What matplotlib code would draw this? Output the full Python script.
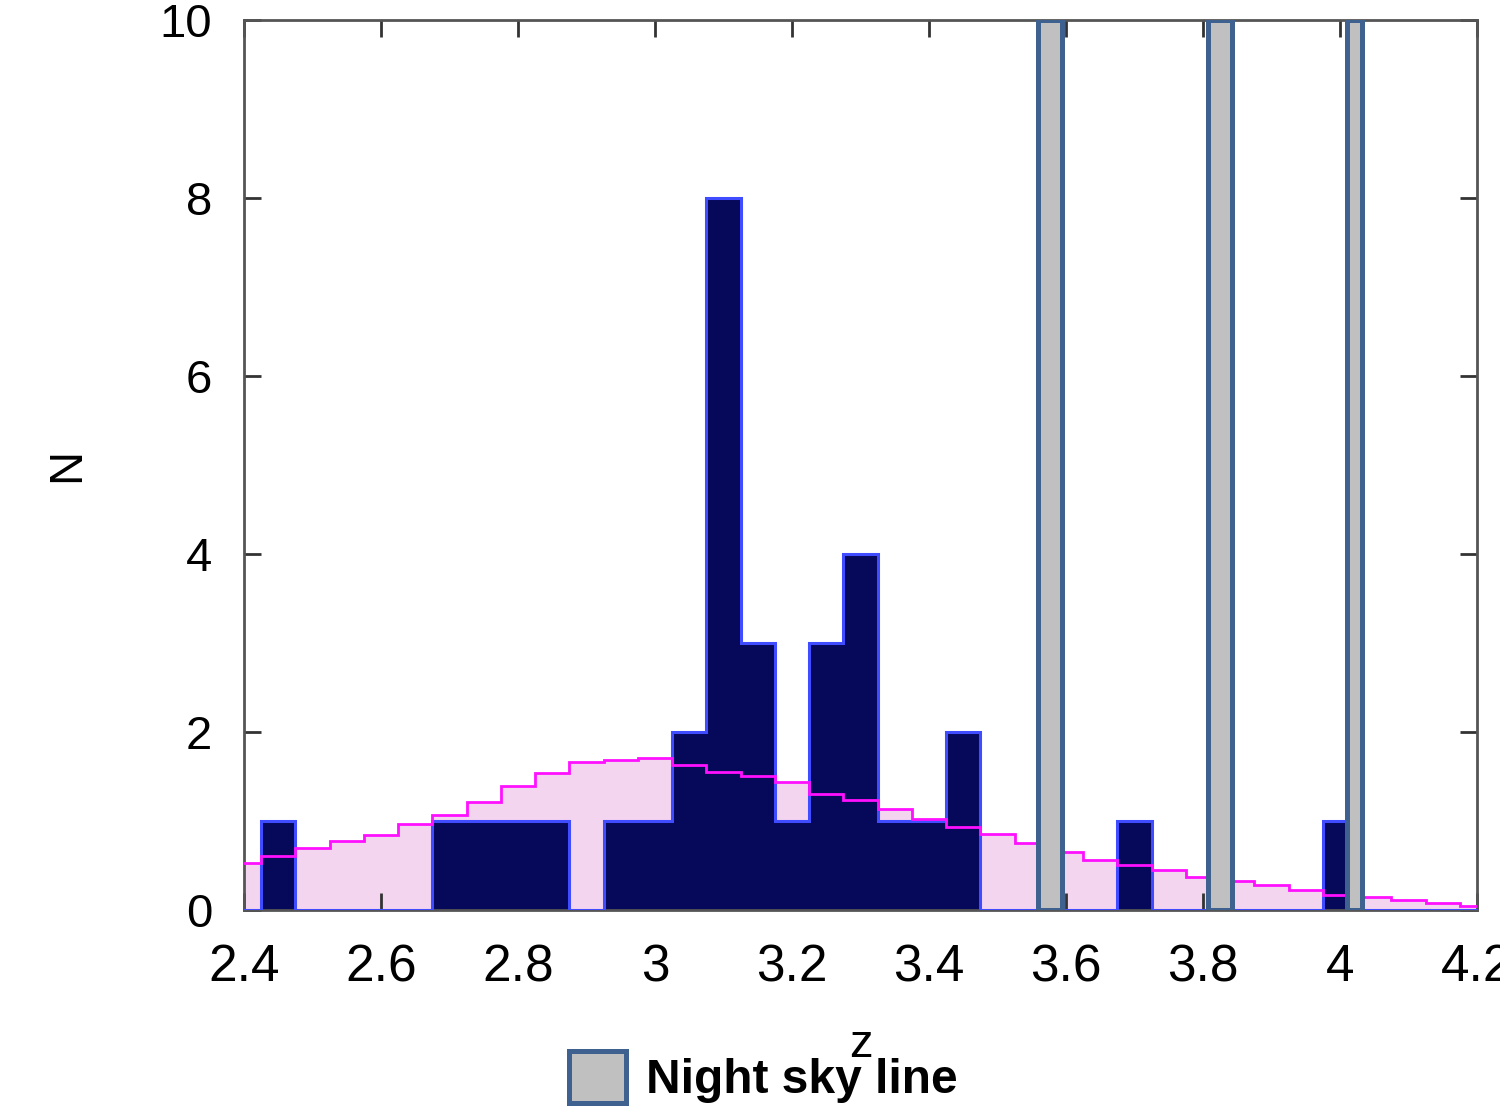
"""
Redshift histogram with model curve and night sky line bands
"""

import numpy as np
import matplotlib.pyplot as plt
from matplotlib.patches import Patch

plt.rcParams['font.family'] = ['Liberation Sans', 'DejaVu Sans']

# binning (width 0.05 in z)
bin_start = 2.375
bin_width = 0.05

# observed counts per bin, starting at 2.375
observed_counts = [0, 1, 0, 0, 0, 0, 1, 1, 1, 1, 0, 1, 1, 2, 8, 3, 1, 3, 4,
                   1, 1, 2, 0, 0, 0, 0, 1, 0, 0, 0, 0, 0, 1, 0, 0, 0, 0]

# expected distribution per bin, same binning
model_counts = [0.53, 0.61, 0.70, 0.77, 0.84, 0.97, 1.07, 1.21, 1.39, 1.54,
                1.66, 1.69, 1.71, 1.63, 1.55, 1.51, 1.44, 1.30, 1.24, 1.13,
                1.02, 0.93, 0.85, 0.75, 0.65, 0.56, 0.51, 0.45, 0.37, 0.33,
                0.28, 0.22, 0.17, 0.15, 0.11, 0.08, 0.05]

# night sky line ranges in z
sky_lines = [(3.559, 3.594), (3.807, 3.842), (4.010, 4.032)]

edges = bin_start + bin_width * np.arange(len(model_counts) + 1)

fig = plt.figure(figsize=(15, 11.14), dpi=100)
ax = fig.add_axes([0.1627, 0.1831, 0.822, 0.799])

# model: light fill underneath, magenta step line on top of the bars
ax.stairs(model_counts, edges, fill=True, color='#f3d5f0', zorder=1)
ax.stairs(observed_counts, edges, fill=True, facecolor='#06085a',
          edgecolor='none', zorder=2)
ax.stairs(observed_counts, edges, color='#3f4cff', lw=2.2, zorder=3)
ax.stairs(model_counts, edges, color='#ff10ff', lw=2.0, zorder=4)

for z0, z1 in sky_lines:
    ax.axvspan(z0, z1, facecolor='#c0c0c0', edgecolor='#3f6190',
               lw=3.6, zorder=5)

ax.set_xlim(2.4, 4.2)
ax.set_ylim(0, 10)
ax.set_xticks(np.arange(2.4, 4.21, 0.2))
ax.set_xticklabels(['2.4', '2.6', '2.8', '3', '3.2', '3.4', '3.6', '3.8',
                    '4', '4.2'])
ax.set_yticks([0, 2, 4, 6, 8, 10])

ax.tick_params(direction='in', length=12, width=2, color='#333333',
               top=True, right=True)
ax.tick_params(axis='x', labelsize=37, pad=24)
ax.tick_params(axis='y', labelsize=34, pad=23)
for s in ax.spines.values():
    s.set_color('#555555')
    s.set_linewidth(2)

ax.set_xlabel('z', fontsize=34)
ax.set_ylabel('N', fontsize=34)
ax.xaxis.set_label_coords(0.5, -0.127)
ax.yaxis.set_label_coords(-0.1257, 0.5)

handle = Patch(facecolor='#c0c0c0', edgecolor='#3f6190', lw=3.6)
fig.legend([handle], ['Night sky line'], loc='center', frameon=False,
           bbox_to_anchor=(0.509, 0.033), prop={'weight': 'bold', 'size': 34.5},
           handlelength=1.2, handleheight=1.3, handletextpad=0.42)

fig.savefig('out.png', dpi=100)
plt.close(fig)
